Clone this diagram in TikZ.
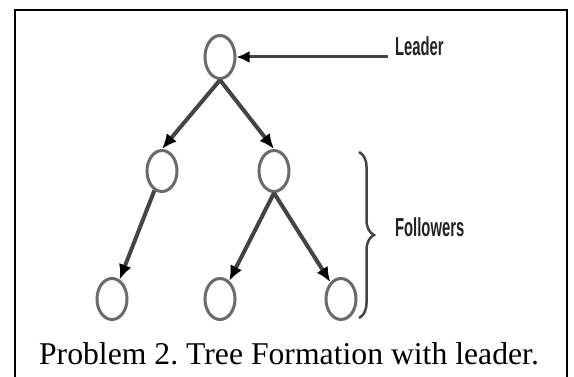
\documentclass[tikz,border=0pt]{standalone}
\usepackage{fontspec}
\setmainfont{Liberation Serif}
\newfontfamily\labfont{Liberation Sans}
\usetikzlibrary{arrows.meta,decorations.pathreplacing,shapes.geometric}
\definecolor{nodegray}{HTML}{6A6A6A}
\definecolor{edgegray}{HTML}{444444}
\definecolor{labgray}{HTML}{222222}
\tikzset{
  member/.style={ellipse, draw=nodegray, line width=3pt, fill=white, minimum width=30pt, minimum height=41pt, inner sep=0pt},
  treeedge/.style={draw=edgegray, line width=4pt, -{Latex[length=15pt,width=13pt,color=black]}},
  leadline/.style={draw=edgegray, line width=3pt, -{Latex[length=13pt,width=12pt,color=black]}},
  bracestyle/.style={draw=edgegray, line width=2.5pt, decorate, decoration={brace, amplitude=15pt, aspect=0.5}},
  sidelabel/.style={font=\labfont\bfseries\fontsize{26}{28}\selectfont, text=labgray, xscale=0.57, inner sep=0pt},
  frame/.style={draw=black, line width=1.5pt}
}
\begin{document}
\begin{tikzpicture}[x=1pt,y=-1pt]
\useasboundingbox (0,0) rectangle (574,377);
\draw[frame] (15,382) -- (15,10) -- (567,10) -- (567,382);
% nodes
\node[member, minimum height=43pt] (root) at (220,57) {};
\node[member] (m1) at (162,171) {};
\node[member] (m2) at (274,171) {};
\node[member] (b1) at (112,299) {};
\node[member] (b2) at (220,299) {};
\node[member] (b3) at (341,299) {};
% edges
\draw[treeedge] (root.south) -- (m1.north);
\draw[treeedge] (root.south) -- (m2.north);
\draw[treeedge] (m1) -- (b1);
\draw[treeedge] (m2.south) -- (b2);
\draw[treeedge] (m2.south) -- (b3);
% leader
\node[sidelabel, anchor=base west] (leadtxt) at (395,56) {Leader};
\coordinate (ls) at (388,57);
\draw[leadline] (ls) -- (root.east);
% followers brace
\coordinate (bt) at (359,152);
\coordinate (bb) at (359,318);
\draw[bracestyle] (bt) -- (bb);
\node[sidelabel, anchor=base west] (foltxt) at (395,237) {Followers};
% caption
\node[anchor=base, inner sep=0pt, font=\fontsize{31.7}{34}\selectfont] (cap) at (289,364) {\frenchspacing Problem 2. Tree Formation with leader.};
\end{tikzpicture}
\end{document}
